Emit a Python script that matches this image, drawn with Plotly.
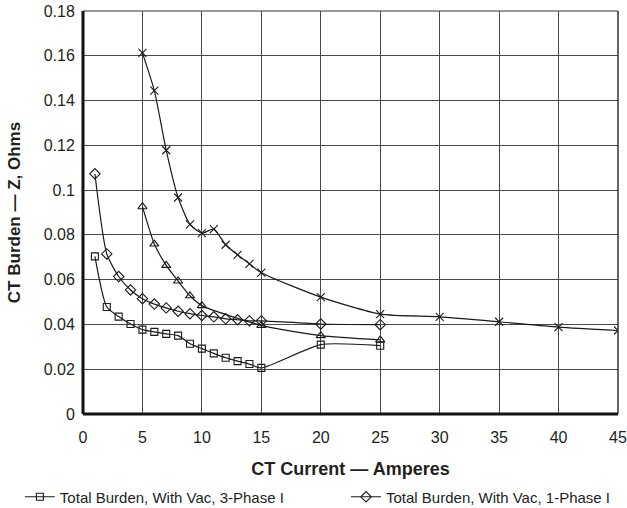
import plotly.graph_objects as go

x_sq = [1, 2, 3, 4, 5, 6, 7, 8, 9, 10, 11, 12, 13, 14, 15, 20, 25]
y_sq = [0.0704, 0.0478, 0.0435, 0.0402, 0.0377, 0.0367, 0.0358, 0.0350, 0.0314, 0.0292,
        0.0271, 0.0251, 0.0236, 0.0223, 0.0206, 0.0310, 0.0305]

x_di = [1, 2, 3, 4, 5, 6, 7, 8, 9, 10, 11, 12, 13, 14, 15, 20, 25]
y_di = [0.1073, 0.0715, 0.0614, 0.0554, 0.0515, 0.0491, 0.0474, 0.0459, 0.0448, 0.0440,
        0.0434, 0.0425, 0.0421, 0.0416, 0.0416, 0.0402, 0.0399]

x_tr = [5, 6, 7, 8, 9, 10, 15, 20, 25]
y_tr = [0.0926, 0.0759, 0.0664, 0.0594, 0.0528, 0.0484, 0.0396, 0.0350, 0.0331]

x_x = [5, 6, 7, 8, 9, 10, 11, 12, 13, 14, 15, 20, 25, 30, 35, 40, 45]
y_x = [0.1613, 0.1444, 0.1178, 0.0967, 0.0847, 0.0808, 0.0826, 0.0756, 0.0711, 0.0671,
       0.0631, 0.0522, 0.0446, 0.0434, 0.0412, 0.0388, 0.0373]

names = ["Total Burden, With Vac, 3-Phase I", "Total Burden, With Vac, 1-Phase I",
         "Total Burden, Without Vac, 3-Phase I", "Total Burden, Without Vac, 1-Phase I"]

x_ticks = [0, 5, 10, 15, 20, 25, 30, 35, 40, 45]
y_ticks = [0, 0.02, 0.04, 0.06, 0.08, 0.1, 0.12, 0.14, 0.16, 0.18]
y_tick_text = ["0", "0.02", "0.04", "0.06", "0.08", "0.1", "0.12", "0.14", "0.16", "0.18"]

fig = go.Figure()
series = [
    (x_sq, y_sq, "square-open", names[0], True, 7, "legend"),
    (x_di, y_di, "diamond-open", names[1], True, 8, "legend2"),
    (x_tr, y_tr, "triangle-up-open", names[2], False, 8, "legend"),
    (x_x, y_x, "x-thin-open", names[3], False, 8, "legend"),
]
for xs, ys, sym, nm, show, ms, lg in series:
    fig.add_trace(go.Scatter(
        x=xs, y=ys, mode="lines+markers", name=nm, showlegend=show, legend=lg,
        line=dict(color="#1a1a1a", width=1.2, shape="spline", smoothing=0.6),
        marker=dict(symbol=sym, size=ms, color="#1a1a1a", line=dict(width=1.1, color="#1a1a1a")),
    ))

font_fam = "Liberation Sans, Arial, sans-serif"
leg_common = dict(orientation="h", xanchor="left", yanchor="middle",
                  font=dict(size=15, color="#231f20"), itemwidth=30,
                  bgcolor="rgba(0,0,0,0)")
fig.update_layout(
    width=627, height=508,
    margin=dict(l=83, r=9, t=11, b=94, autoexpand=False),
    paper_bgcolor="white", plot_bgcolor="white",
    font=dict(family=font_fam, color="#231f20", size=16),
    showlegend=True,
    legend=dict(x=-0.118, y=-0.206, **leg_common),
    legend2=dict(x=0.4916, y=-0.206, **leg_common),
    xaxis=dict(range=[0, 45], tickvals=x_ticks, ticktext=[str(v) for v in x_ticks],
               showgrid=True, gridcolor="#4a4a4a", gridwidth=1.2, automargin=False,
               showline=False, zeroline=False, ticks="outside", ticklen=9,
               tickcolor="rgba(0,0,0,0)",
               tickfont=dict(size=16, color="#231f20"),
               title=dict(text="<b>CT Current — Amperes</b>", font=dict(size=18, color="#231f20"), standoff=17)),
    yaxis=dict(range=[0, 0.18], tickvals=y_ticks, ticktext=y_tick_text,
               showgrid=True, gridcolor="#4a4a4a", gridwidth=1.2, automargin=False,
               showline=False, zeroline=False, ticks="outside", ticklen=4,
               tickcolor="rgba(0,0,0,0)",
               tickfont=dict(size=16, color="#231f20"),
               title=dict(text="<b>CT Burden — Z, Ohms</b>", font=dict(size=17, color="#231f20"), standoff=18)),
)
# frame: thick left and bottom, thin top and right
fig.add_shape(type="line", xref="paper", yref="paper", x0=0, x1=0, y0=0, y1=1,
              line=dict(color="#111111", width=3))
fig.add_shape(type="line", xref="paper", yref="paper", x0=0, x1=1, y0=0, y1=0,
              line=dict(color="#111111", width=3))
fig.add_shape(type="line", xref="paper", yref="paper", x0=0, x1=1, y0=1, y1=1,
              line=dict(color="#333333", width=1.2))
fig.add_shape(type="line", xref="paper", yref="paper", x0=1, x1=1, y0=0, y1=1,
              line=dict(color="#333333", width=1.5))

fig.write_html("out.html", config={"displayModeBar": False},
               post_script="document.body.style.margin='0';document.body.style.padding='0';document.body.style.overflow='hidden';")
